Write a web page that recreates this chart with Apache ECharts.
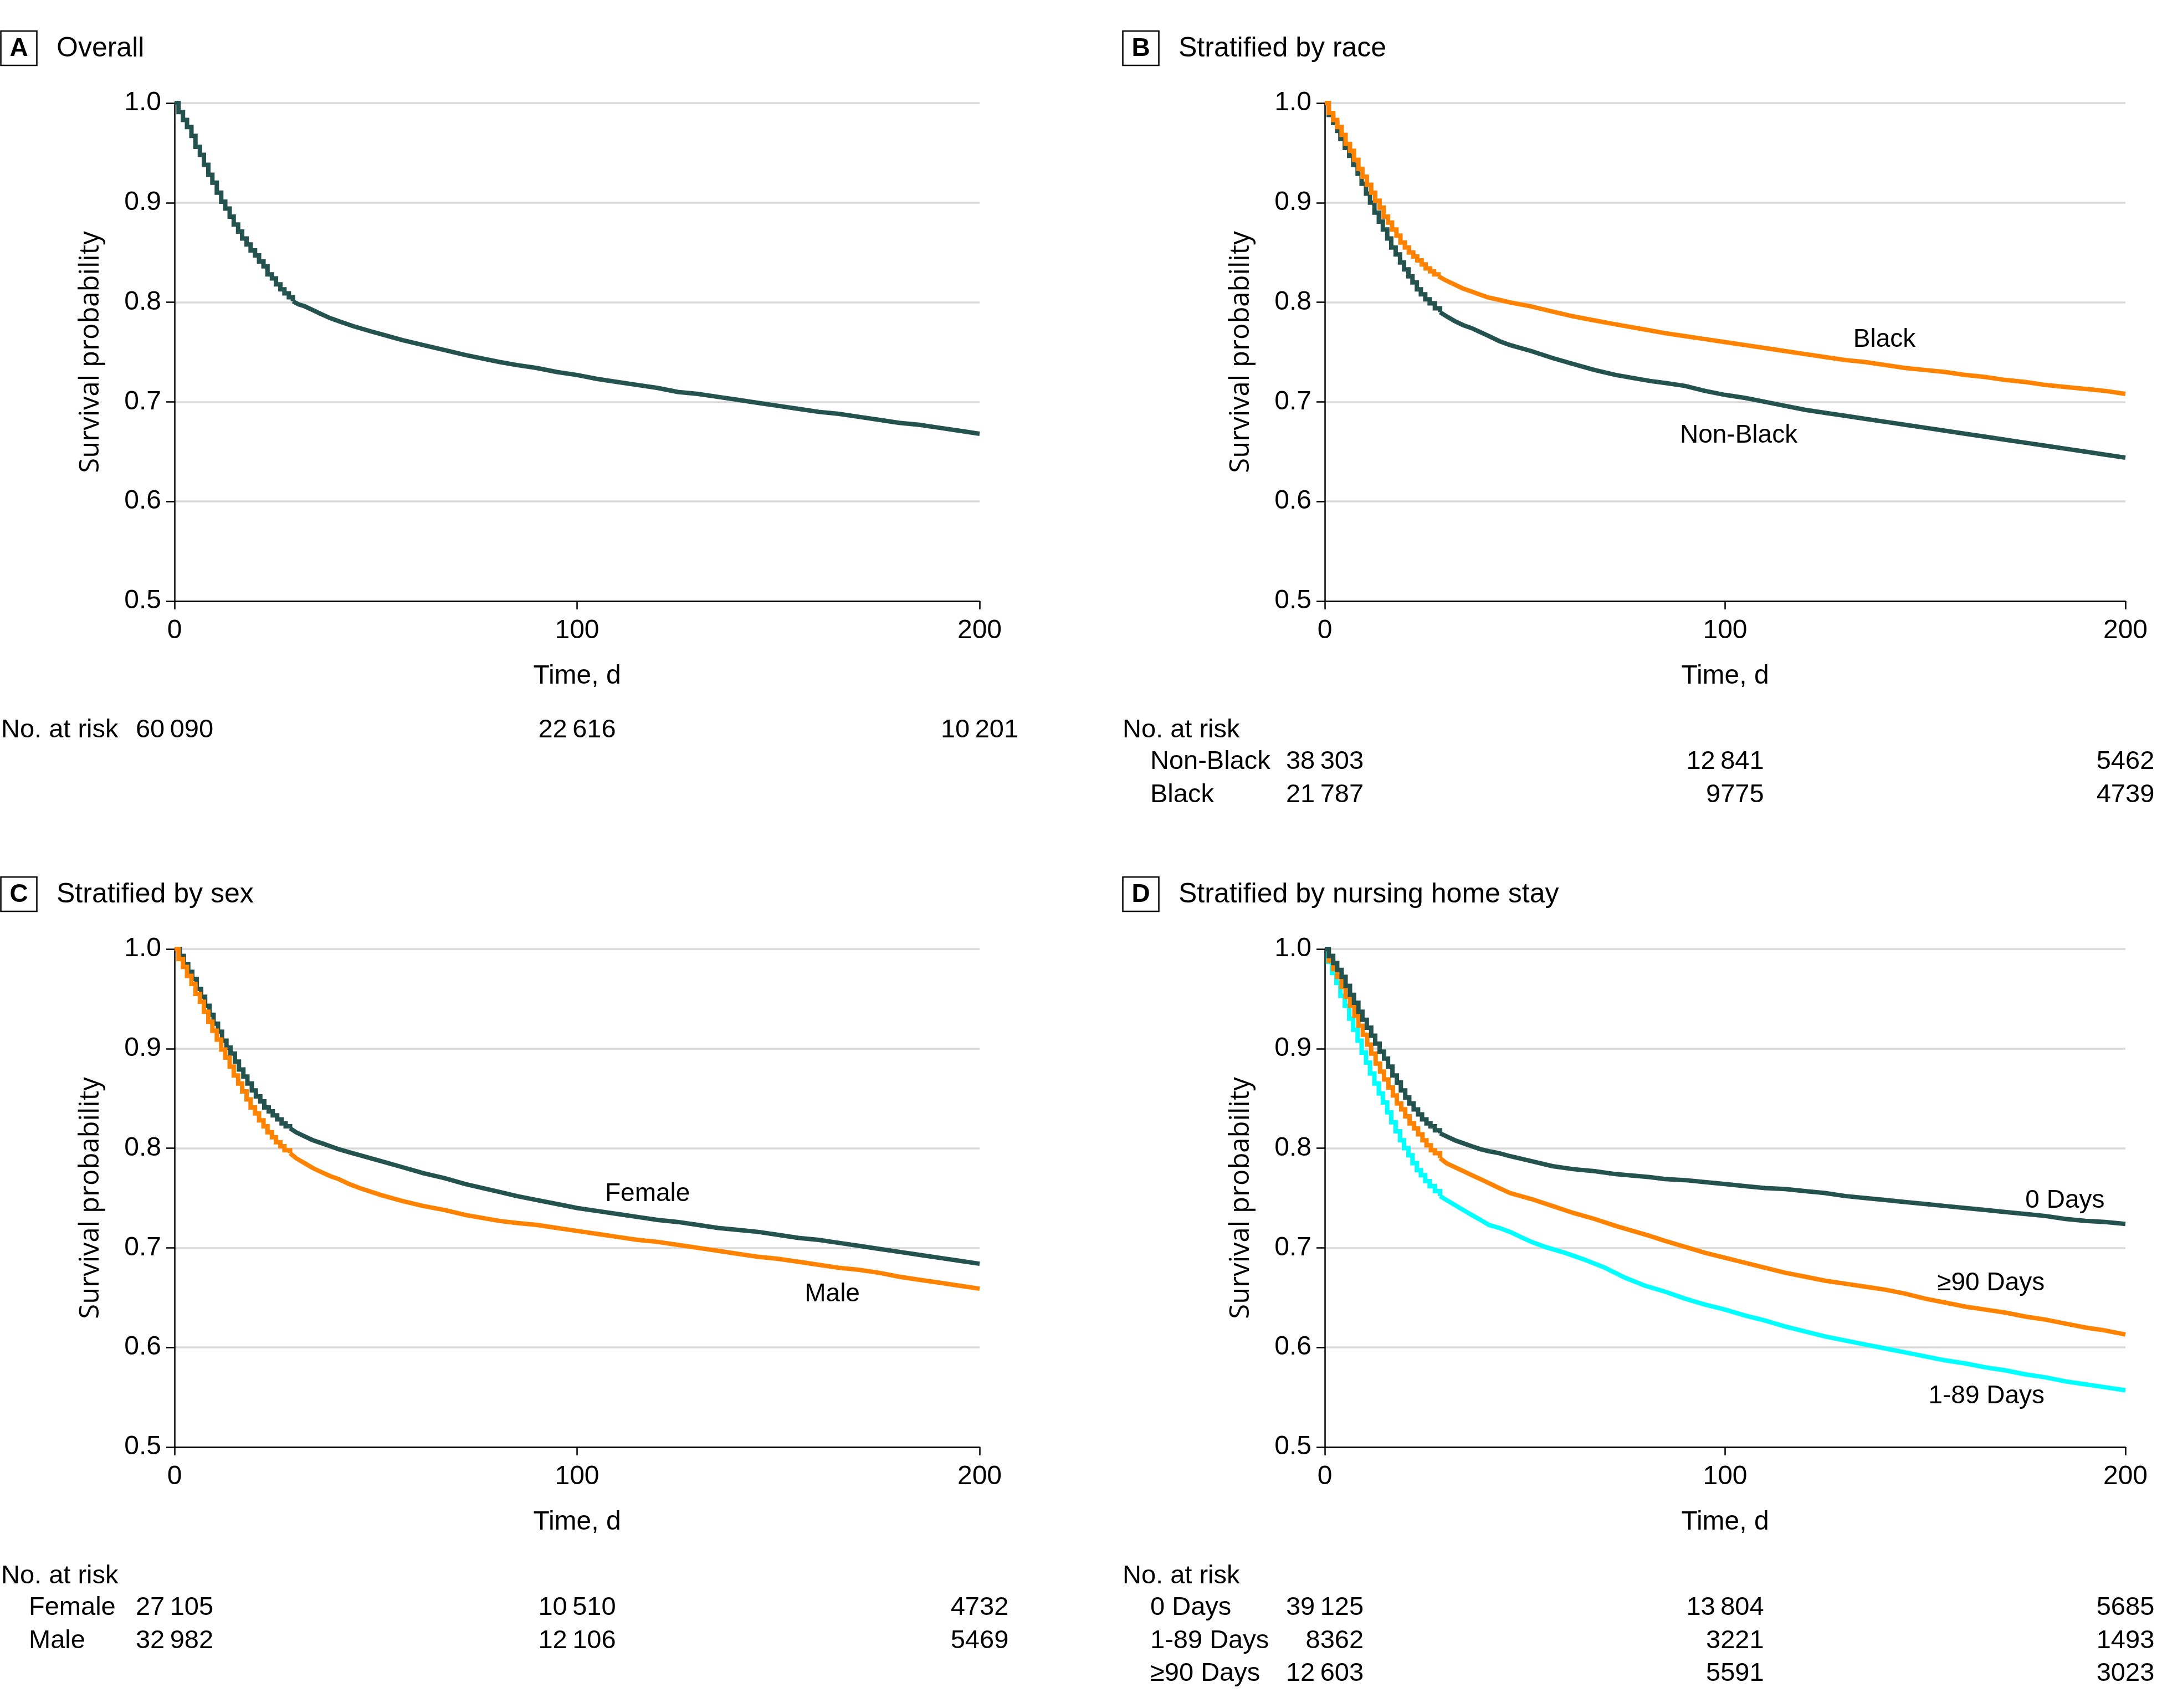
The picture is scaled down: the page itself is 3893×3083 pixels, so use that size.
<!DOCTYPE html>
<html><head><meta charset="utf-8">
<script src="https://cdn.jsdelivr.net/npm/echarts@6/dist/echarts.min.js"></script>
<style>html,body{margin:0;padding:0;background:#fff}#c{width:3893px;height:3083px}</style>
</head><body><div id="c"></div>
<script>
// ---------- data ----------
const riskTimes = [0, 100, 200];

const survOverall = [[0,1],[1.0,0.991],[2.1,0.983],[3.1,0.976],[4.2,0.967],[5.2,0.956],[6.3,0.948],[7.3,0.938],[8.4,0.928],[9.4,0.920],[10.5,0.910],[11.6,0.901],[12.6,0.894],[13.7,0.886],[14.7,0.878],[15.8,0.871],[16.8,0.864],[17.9,0.858],[18.9,0.852],[20.0,0.847],[21.0,0.841],[22.1,0.836],[23.1,0.828],[24.2,0.824],[25.2,0.818],[26.3,0.813],[27.3,0.809],[28.4,0.805],[29.4,0.801],[30.8,0.798],[32.3,0.796],[34.4,0.792],[36.5,0.788],[38.7,0.784],[40.8,0.781],[44.4,0.776],[48.6,0.771],[51.3,0.768],[56.6,0.762],[61.8,0.757],[67.1,0.752],[72.3,0.747],[80.8,0.740],[85,0.737],[90,0.734],[95,0.730],[100,0.727],[105,0.723],[110,0.720],[115,0.717],[120,0.714],[125,0.710],[130,0.708],[135,0.705],[140,0.702],[145,0.699],[150,0.696],[155,0.693],[160,0.690],[165,0.688],[170,0.685],[175,0.682],[180,0.679],[185,0.677],[190,0.674],[195,0.671],[200,0.668]];

const survBlack = [[0,1],[1.0,0.990],[2.1,0.983],[3.1,0.976],[4.2,0.968],[5.2,0.959],[6.3,0.952],[7.3,0.943],[8.4,0.934],[9.4,0.926],[10.5,0.918],[11.6,0.910],[12.6,0.902],[13.7,0.895],[14.7,0.886],[15.8,0.880],[16.8,0.873],[17.9,0.867],[18.9,0.860],[20.0,0.855],[21.0,0.850],[22.1,0.846],[23.1,0.842],[24.2,0.838],[25.2,0.834],[26.3,0.831],[27.3,0.828],[28.4,0.826],[30.2,0.822],[32.3,0.818],[34.4,0.814],[36.5,0.811],[38.6,0.808],[40.7,0.805],[44.0,0.802],[46.1,0.800],[51.4,0.796],[56.6,0.791],[61.9,0.786],[67.1,0.782],[72.4,0.778],[80.9,0.772],[85,0.769],[90,0.766],[95,0.763],[100,0.760],[105,0.757],[110,0.754],[115,0.751],[120,0.748],[125,0.745],[130,0.742],[135,0.740],[140,0.737],[145,0.734],[150,0.732],[155,0.730],[160,0.727],[165,0.725],[170,0.722],[175,0.720],[180,0.717],[185,0.715],[190,0.713],[195,0.711],[200,0.708]];

const survNonBlack = [[0,1],[1.0,0.988],[2.1,0.980],[3.1,0.972],[3.9,0.964],[5.0,0.955],[6.1,0.947],[7.1,0.938],[8.2,0.929],[9.2,0.919],[10.3,0.909],[11.3,0.900],[12.4,0.890],[13.5,0.881],[14.5,0.873],[15.6,0.864],[16.6,0.855],[17.7,0.848],[18.8,0.840],[19.8,0.833],[20.9,0.826],[21.9,0.820],[23.0,0.813],[24.0,0.808],[25.1,0.803],[26.2,0.799],[27.5,0.794],[28.8,0.790],[30.4,0.786],[32.5,0.781],[34.6,0.777],[36.7,0.774],[38.9,0.770],[41.0,0.766],[43.6,0.761],[46.3,0.757],[51.6,0.751],[56.9,0.744],[62.1,0.738],[67.4,0.732],[72.7,0.727],[81.2,0.721],[85,0.719],[90,0.716],[95,0.711],[100,0.707],[105,0.704],[110,0.700],[115,0.696],[120,0.692],[125,0.689],[130,0.686],[135,0.683],[140,0.680],[145,0.677],[150,0.674],[155,0.671],[160,0.668],[165,0.665],[170,0.662],[175,0.659],[180,0.656],[185,0.653],[190,0.650],[195,0.647],[200,0.644]];

const survFemale = [[0,1],[1.3,0.993],[2.3,0.985],[3.4,0.977],[4.4,0.970],[5.5,0.960],[6.6,0.952],[7.6,0.943],[8.7,0.934],[9.7,0.925],[10.8,0.917],[11.8,0.908],[12.9,0.901],[13.9,0.895],[15.0,0.887],[16.0,0.879],[17.1,0.872],[18.1,0.865],[19.2,0.858],[20.2,0.852],[21.3,0.847],[22.3,0.841],[23.4,0.837],[24.4,0.833],[25.5,0.829],[26.6,0.825],[27.6,0.822],[28.7,0.820],[30.2,0.816],[32.3,0.812],[34.4,0.808],[36.6,0.805],[38.7,0.802],[40.8,0.799],[43.4,0.796],[46.0,0.793],[51.3,0.787],[56.6,0.781],[61.8,0.775],[67.1,0.770],[72.3,0.764],[80.8,0.756],[85,0.752],[90,0.748],[95,0.744],[100,0.740],[105,0.737],[110,0.734],[115,0.731],[120,0.728],[125,0.726],[130,0.723],[135,0.720],[140,0.718],[145,0.716],[150,0.713],[155,0.710],[160,0.708],[165,0.705],[170,0.702],[175,0.699],[180,0.696],[185,0.693],[190,0.690],[195,0.687],[200,0.684]];

const survMale = [[0,1],[1.0,0.990],[2.1,0.982],[3.1,0.973],[4.2,0.965],[5.2,0.955],[6.3,0.947],[7.3,0.937],[8.4,0.927],[9.4,0.918],[10.5,0.909],[11.6,0.899],[12.6,0.891],[13.7,0.882],[14.7,0.873],[15.8,0.865],[16.8,0.857],[17.9,0.849],[18.9,0.841],[20.0,0.835],[21.0,0.828],[22.1,0.822],[23.1,0.816],[24.2,0.811],[25.2,0.806],[26.3,0.802],[27.3,0.798],[28.7,0.795],[30.2,0.790],[32.3,0.785],[34.4,0.780],[36.5,0.776],[38.7,0.772],[40.8,0.769],[43.4,0.764],[46.0,0.760],[51.3,0.753],[56.6,0.747],[61.8,0.742],[67.1,0.738],[72.3,0.733],[80.8,0.727],[85,0.725],[90,0.723],[95,0.720],[100,0.717],[105,0.714],[110,0.711],[115,0.708],[120,0.706],[125,0.703],[130,0.700],[135,0.697],[140,0.694],[145,0.691],[150,0.689],[155,0.686],[160,0.683],[165,0.680],[170,0.678],[175,0.675],[180,0.671],[185,0.668],[190,0.665],[195,0.662],[200,0.659]];

const surv0Days = [[0,1],[1.0,0.993],[2.1,0.986],[3.1,0.979],[4.2,0.972],[5.2,0.963],[6.3,0.954],[7.3,0.946],[8.4,0.937],[9.4,0.929],[10.5,0.921],[11.6,0.913],[12.6,0.905],[13.7,0.897],[14.8,0.890],[15.8,0.882],[16.9,0.873],[18.0,0.866],[19.0,0.858],[20.1,0.851],[21.1,0.845],[22.2,0.839],[23.3,0.834],[24.3,0.829],[25.4,0.825],[26.4,0.822],[27.5,0.818],[28.8,0.815],[30.4,0.812],[32.5,0.808],[34.6,0.805],[36.7,0.802],[38.9,0.799],[41.0,0.797],[43.6,0.795],[46.3,0.792],[51.6,0.787],[56.9,0.782],[62.1,0.779],[67.4,0.777],[72.7,0.774],[81.2,0.771],[85,0.769],[90,0.768],[95,0.766],[100,0.764],[105,0.762],[110,0.760],[115,0.759],[120,0.757],[125,0.755],[130,0.752],[135,0.750],[140,0.748],[145,0.746],[150,0.744],[155,0.742],[160,0.740],[165,0.738],[170,0.736],[175,0.734],[180,0.732],[185,0.729],[190,0.727],[195,0.726],[200,0.724]];

const surv1to89Days = [[0,1],[0.8,0.987],[1.8,0.976],[2.9,0.966],[3.9,0.953],[5.0,0.943],[6.1,0.930],[7.1,0.919],[8.2,0.908],[9.2,0.896],[10.3,0.886],[11.3,0.875],[12.4,0.865],[13.5,0.855],[14.5,0.846],[15.6,0.836],[16.6,0.826],[17.7,0.817],[18.8,0.808],[19.8,0.800],[20.9,0.793],[21.9,0.785],[23.0,0.778],[24.0,0.773],[25.1,0.767],[26.2,0.762],[27.5,0.757],[28.8,0.752],[30.4,0.748],[32.5,0.743],[34.6,0.738],[36.7,0.733],[38.9,0.728],[41.0,0.723],[43.6,0.720],[46.3,0.716],[48.9,0.711],[51.6,0.706],[55,0.701],[60,0.695],[65,0.688],[70,0.680],[75,0.670],[80,0.662],[85,0.656],[90,0.649],[95,0.643],[100,0.638],[105,0.632],[110,0.627],[115,0.621],[120,0.616],[125,0.611],[130,0.607],[135,0.603],[140,0.599],[145,0.595],[150,0.591],[155,0.587],[160,0.584],[165,0.580],[170,0.577],[175,0.573],[180,0.570],[185,0.566],[190,0.563],[195,0.560],[200,0.557]];

const surv90Days = [[0,1],[1.0,0.988],[2.1,0.980],[3.1,0.972],[4.2,0.962],[5.2,0.952],[6.3,0.943],[7.4,0.933],[8.4,0.923],[9.5,0.914],[10.6,0.904],[11.6,0.895],[12.7,0.885],[13.8,0.877],[14.8,0.869],[15.9,0.861],[17.0,0.853],[18.0,0.845],[19.1,0.839],[20.1,0.832],[21.2,0.825],[22.3,0.820],[23.3,0.814],[24.4,0.808],[25.4,0.803],[26.5,0.798],[27.5,0.795],[28.8,0.790],[30.4,0.785],[32.5,0.781],[34.6,0.777],[36.7,0.773],[38.9,0.769],[41.0,0.765],[43.6,0.760],[46.3,0.755],[51.6,0.749],[56.9,0.742],[62.1,0.735],[67.4,0.729],[72.7,0.722],[81.2,0.712],[85,0.707],[90,0.701],[95,0.695],[100,0.690],[105,0.685],[110,0.680],[115,0.675],[120,0.671],[125,0.667],[130,0.664],[135,0.661],[140,0.658],[145,0.654],[150,0.649],[155,0.645],[160,0.641],[165,0.638],[170,0.635],[175,0.631],[180,0.628],[185,0.624],[190,0.620],[195,0.617],[200,0.613]];

const riskOverall = [60090, 22616, 10201];
const riskNonBlack = [38303, 12841, 5462];
const riskBlack = [21787, 9775, 4739];
const riskFemale = [27105, 10510, 4732];
const riskMale = [32982, 12106, 5469];
const risk0Days = [39125, 13804, 5685];
const risk1to89Days = [8362, 3221, 1493];
const risk90Days = [12603, 5591, 3023];

const panelLetters = ['A', 'B', 'C', 'D'];
const panelTitles = ['Overall', 'Stratified by race', 'Stratified by sex', 'Stratified by nursing home stay'];

// ---------- style ----------
const DARK = '#24534f', ORANGE = '#ff8200', CYAN = '#00ffff';
const FONT = '"Liberation Sans", Arial, sans-serif';
const YFONT = '"Open Sans", "DejaVu Sans", sans-serif';
const FS = 47;
const LW = 8;

const grids = [
  {left: 315, top: 186, width: 1453, height: 899},
  {left: 2391, top: 186, width: 1445, height: 899},
  {left: 315, top: 1713, width: 1453, height: 899},
  {left: 2391, top: 1713, width: 1445, height: 899}
];

function xAx(i) {
  return {
    type: 'value', gridIndex: i, min: 0, max: 200, interval: 100,
    axisLine: {show: true, onZero: false, lineStyle: {color: '#000', width: 2.5}},
    axisTick: {show: true, length: 15, lineStyle: {color: '#000', width: 2.5}},
    axisLabel: {fontSize: FS + 1, color: '#000', fontFamily: FONT, margin: 30},
    splitLine: {show: false},
    name: 'Time, d', nameLocation: 'middle', nameGap: 112,
    nameTextStyle: {fontSize: FS + 1, color: '#000', fontFamily: FONT}
  };
}
function yAx(i) {
  return {
    type: 'value', gridIndex: i, min: 0.5, max: 1.0, interval: 0.1,
    axisLine: {show: true, onZero: false, lineStyle: {color: '#000', width: 2.5}},
    axisTick: {show: true, length: 15, lineStyle: {color: '#000', width: 2.5}},
    axisLabel: {fontSize: FS + 1, color: '#000', fontFamily: FONT, margin: 24, formatter: v => v.toFixed(1)},
    splitLine: {show: true, lineStyle: {color: '#d9d9d9', width: 3.5}},
    name: 'Survival probability', nameLocation: 'middle', nameGap: 126,
    nameTextStyle: {fontSize: 49, color: '#000', fontFamily: YFONT}
  };
}
// early part drawn as Kaplan-Meier staircase, later (sparsely read) part as a joined line
function km(name, data, color, i, z, cut) {
  cut = cut || 30;
  let k = data.findIndex(p => p[0] > cut);
  const early = data.slice(0, k), late = data.slice(k - 1);
  const base = {type: 'line', xAxisIndex: i, yAxisIndex: i, showSymbol: false, symbol: 'none',
    z: z || 2, lineStyle: {color, width: LW, join: 'miter', cap: 'butt'}, itemStyle: {color}};
  return [Object.assign({name, step: 'end', data: early}, base),
          Object.assign({name, data: late}, base)];
}

const chart = echarts.init(document.getElementById('c'), null, {renderer: 'canvas'});
chart.setOption({
  animation: false,
  backgroundColor: '#fff',
  grid: grids,
  xAxis: [0, 1, 2, 3].map(xAx),
  yAxis: [0, 1, 2, 3].map(yAx),
  series: [].concat(
    km('Overall', survOverall, DARK, 0),
    km('Non-Black', survNonBlack, DARK, 1, 2),
    km('Black', survBlack, ORANGE, 1, 3),
    km('Female', survFemale, DARK, 2, 2),
    km('Male', survMale, ORANGE, 2, 3),
    km('1-89 Days', surv1to89Days, CYAN, 3, 2),
    km('≥90 Days', surv90Days, ORANGE, 3, 3),
    km('0 Days', surv0Days, DARK, 3, 4)
  )
});

// ---------- annotations ----------
const ctx = document.createElement('canvas').getContext('2d');
function tw(s, size) { ctx.font = size + 'px ' + FONT; return ctx.measureText(s).width; }
function fmt(n) {
  const s = String(n);
  return s.length >= 5 ? s.replace(/\B(?=(\d{3})+(?!\d))/g, '\u2009') : s;
}
const g = [];
function txt(x, y, s, opt) {
  g.push({type: 'text', x, y, z: 10, style: Object.assign({
    text: s, fill: '#000', font: FS + 'px ' + FONT, textAlign: 'left', textVerticalAlign: 'middle'
  }, opt || {})});
}
// headers
const hdr = [[0, 87], [2025, 87], [0, 1614], [2025, 1614]];
hdr.forEach((p, i) => {
  g.push({type: 'rect', z: 10, shape: {x: p[0] + 1.5, y: p[1] - 31, width: 65, height: 62},
    style: {fill: 'none', stroke: '#000', lineWidth: 2.5}});
  txt(p[0] + 34, p[1] + 1, panelLetters[i], {font: 'bold 46px ' + FONT, textAlign: 'center'});
  txt(p[0] + 102, p[1] + 1, panelTitles[i], {font: '50px ' + FONT});
});

// number at risk tables: columns centred on the axis ticks, numbers right-aligned
function riskTable(gi, rowsY, rows) {
  const cols = riskTimes.map((t, c) => {
    const px = chart.convertToPixel({gridIndex: gi}, [t, 0.5])[0];
    const w = Math.max(...rows.map(r => tw(fmt(r.vals[c]), FS)));
    return px + w / 2;
  });
  rows.forEach((r, k) => {
    if (r.label) txt(r.lx, rowsY[k], r.label);
    r.vals.forEach((v, c) => txt(cols[c], rowsY[k], fmt(v), {textAlign: 'right'}));
  });
}
txt(2, 1318, 'No. at risk');
riskTable(0, [1318], [{label: '', vals: riskOverall}]);
txt(2026, 1318, 'No. at risk');
riskTable(1, [1375, 1435], [
  {label: 'Non-Black', lx: 2076, vals: riskNonBlack},
  {label: 'Black', lx: 2076, vals: riskBlack}]);
txt(2, 2845, 'No. at risk');
riskTable(2, [2902, 2962], [
  {label: 'Female', lx: 52, vals: riskFemale},
  {label: 'Male', lx: 52, vals: riskMale}]);
txt(2026, 2845, 'No. at risk');
riskTable(3, [2902, 2962, 3021], [
  {label: '0 Days', lx: 2076, vals: risk0Days},
  {label: '1-89 Days', lx: 2076, vals: risk1to89Days},
  {label: '≥90 Days', lx: 2076, vals: risk90Days}]);

// curve labels anchored in data coordinates
const curveLabels = [
  [1, 139.8, 0.7625, 'Black'],
  [1, 103.4, 0.666, 'Non-Black'],
  [2, 117.5, 0.754, 'Female'],
  [2, 163.4, 0.6535, 'Male'],
  [3, 184.9, 0.7475, '0 Days'],
  [3, 166.4, 0.6646, '≥90 Days'],
  [3, 165.3, 0.5512, '1-89 Days']
];
curveLabels.forEach(l => {
  const p = chart.convertToPixel({gridIndex: l[0]}, [l[1], l[2]]);
  txt(p[0], p[1], l[3], {textAlign: 'center', font: '46px ' + FONT});
});
chart.setOption({graphic: g});
</script>
</body></html>
